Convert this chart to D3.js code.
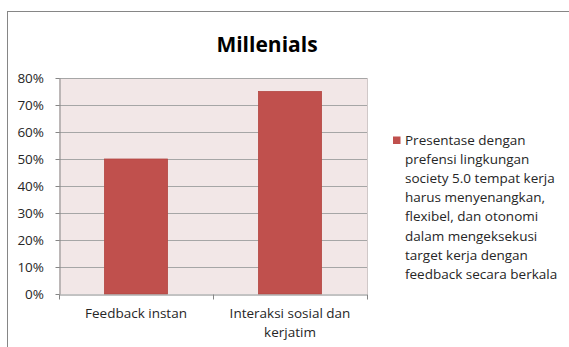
<!DOCTYPE html>
<html>
<head>
<meta charset="utf-8">
<script src="https://cdn.jsdelivr.net/npm/d3@7"></script>
<style>
  body { margin: 0; background: #fff; }
  svg { display: block; font-family: "Open Sans", Lato, sans-serif; }
</style>
</head>
<body>
<div id="graph"></div>
<script>
const categories = ['Feedback instan', 'Interaksi sosial dan kerjatim']
const values = [0.5, 0.75]
const yTicks = [0, 0.1, 0.2, 0.3, 0.4, 0.5, 0.6, 0.7, 0.8]
const legendLines = [
  'Presentase dengan',
  'prefensi lingkungan',
  'society 5.0 tempat kerja',
  'harus menyenangkan,',
  'flexibel, dan otonomi',
  'dalam mengeksekusi',
  'target kerja dengan',
  'feedback secara berkala',
]

const W = 569
const H = 347
const plot = { left: 59, top: 78, right: 367, bottom: 294 }
const textColor = '#262626'
const fontSize = 13.5

const svg = d3.select('#graph').append('svg').attr('width', W).attr('height', H)

// chart frame (only left and top edges are visible)
svg.append('rect')
  .attr('x', 7.5).attr('y', 11.5)
  .attr('width', 700).attr('height', 500)
  .attr('fill', '#fff').attr('stroke', '#868686')

svg.append('text')
  .attr('x', 267).attr('y', 52)
  .attr('text-anchor', 'middle')
  .attr('font-size', 21).attr('font-weight', 'bold')
  .attr('fill', '#000')
  .text('Millenials')

const x = d3.scaleBand()
  .domain(categories)
  .range([plot.left, plot.right])
  .paddingInner(0.59).paddingOuter(0.295)
const band = d3.scaleBand().domain(categories).range([plot.left, plot.right])
const y = d3.scaleLinear().domain([0, 0.8]).range([plot.bottom, plot.top])

svg.append('rect')
  .attr('x', plot.left).attr('y', plot.top)
  .attr('width', plot.right - plot.left).attr('height', plot.bottom - plot.top)
  .attr('fill', '#f2e7e7')

// gridlines
svg.append('g')
  .selectAll('line')
  .data(yTicks.slice(1))
  .enter()
  .append('line')
  .attr('x1', plot.left).attr('x2', plot.right)
  .attr('y1', (d) => Math.round(y(d)) + 0.5).attr('y2', (d) => Math.round(y(d)) + 0.5)
  .attr('stroke', '#a6a6a6')

svg.append('line')
  .attr('x1', plot.right + 0.5).attr('x2', plot.right + 0.5)
  .attr('y1', plot.top).attr('y2', plot.bottom)
  .attr('stroke', '#d0c8c8')

// bars
svg.selectAll('.bar')
  .data(values)
  .enter()
  .append('rect')
  .attr('class', 'bar')
  .attr('x', (d, i) => x(categories[i]))
  .attr('y', (d) => y(d))
  .attr('width', x.bandwidth())
  .attr('height', (d) => plot.bottom - y(d))
  .attr('fill', '#c0504d')
  .attr('stroke', '#b34743')
  .attr('stroke-width', 0.8)

// y axis
const yAxis = svg.append('g')
  .attr('transform', `translate(${plot.left + 0.5},0)`)
  .call(d3.axisLeft(y).tickValues(yTicks).tickFormat(d3.format('.0%')).tickSizeInner(4).tickSizeOuter(0).tickPadding(11.5))
yAxis.select('.domain').attr('stroke', '#868686')
yAxis.selectAll('.tick line').attr('stroke', '#868686')
yAxis.selectAll('text').attr('font-size', fontSize).attr('fill', textColor).attr('font-family', '"Open Sans", sans-serif')

// x axis
const xAxis = svg.append('g')
  .attr('transform', `translate(0,${plot.bottom + 0.5})`)
  .call(d3.axisBottom(band).tickSize(0).tickFormat(''))
xAxis.select('.domain').attr('stroke', '#868686')
xAxis.selectAll('.boundary')
  .data([plot.left, band(categories[1]), plot.right])
  .enter()
  .append('line')
  .attr('x1', (d) => d + 0.5).attr('x2', (d) => d + 0.5)
  .attr('y1', 0).attr('y2', 5)
  .attr('stroke', '#868686')

// x labels, wrapped
const xLabelLines = [['Feedback instan'], ['Interaksi sosial dan', 'kerjatim']]
categories.forEach((c, i) => {
  const t = svg.append('text')
    .attr('x', band(c) + band.bandwidth() / 2)
    .attr('y', 318)
    .attr('text-anchor', 'middle')
    .attr('font-size', fontSize)
    .attr('fill', textColor)
  xLabelLines[i].forEach((line, j) => {
    t.append('tspan')
      .attr('x', band(c) + band.bandwidth() / 2)
      .attr('dy', j === 0 ? 0 : 19)
      .text(line)
  })
})

// legend
svg.append('rect')
  .attr('x', 393).attr('y', 136.5)
  .attr('width', 7.5).attr('height', 7.5)
  .attr('fill', '#c0504d')

const legend = svg.append('text')
  .attr('x', 405).attr('y', 145)
  .attr('font-size', fontSize)
  .attr('fill', textColor)
legend.selectAll('tspan')
  .data(legendLines)
  .enter()
  .append('tspan')
  .attr('x', 405)
  .attr('dy', (d, i) => (i === 0 ? 0 : 19.1))
  .text((d) => d)
</script>
</body>
</html>
